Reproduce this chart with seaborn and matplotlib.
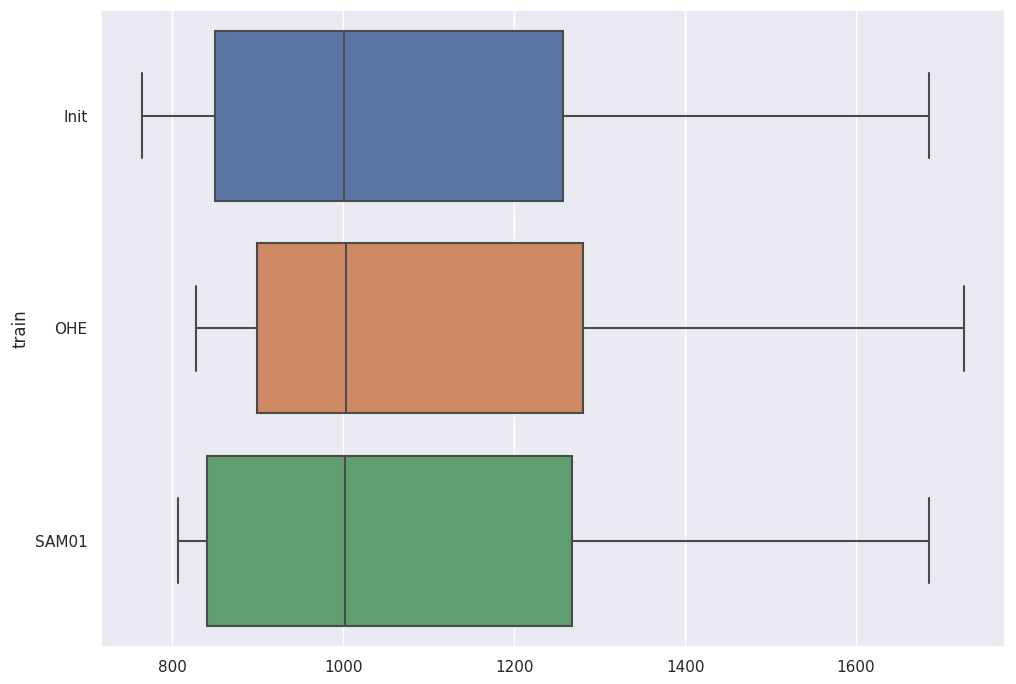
import numpy as np
import pandas as pd
import seaborn as sns
import matplotlib.pyplot as plt

# five-number summary per training set
trains = ["Init", "OHE", "SAM01"]
mins = [764, 828, 806]
q1s = [850, 899, 841]
medians = [1001, 1003, 1002]
q3s = [1257, 1280, 1268]
maxs = [1685, 1726, 1685]

# five points per group reproduce the summary exactly
rows = []
for t, a, b, c, d, e in zip(trains, mins, q1s, medians, q3s, maxs):
    for v in (a, b, c, d, e):
        rows.append({"train": t, "value": v})
df = pd.DataFrame(rows)

sns.set_theme()
fig, ax = plt.subplots(figsize=(10.16, 6.84), dpi=100)
fig.subplots_adjust(left=0.099, right=0.989, top=0.986, bottom=0.054)

sns.boxplot(data=df, x="value", y="train", hue="train", palette="deep",
            width=0.8, linecolor="#4a4a4a", linewidth=1.5, saturation=0.75,
            whis=1.5, ax=ax, legend=False)
ax.set_xlabel("")
ax.set_ylabel("train")

fig.savefig("out.png")
